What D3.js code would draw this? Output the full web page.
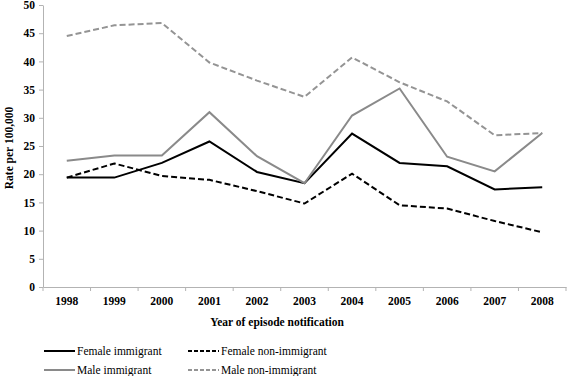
<!DOCTYPE html>
<html><head><meta charset="utf-8">
<script src="https://cdn.jsdelivr.net/npm/d3@7"></script>
<style>body{margin:0;background:#fff}svg{display:block}</style>
</head><body><svg id="c" width="567" height="376" font-family="Liberation Serif"></svg>
<script>
const years = ["1998","1999","2000","2001","2002","2003","2004","2005","2006","2007","2008"];
const femaleImmigrant = [19.4,19.4,22.0,25.8,20.4,18.4,27.2,22.0,21.4,17.3,17.7];
const femaleNonImmigrant = [19.4,21.9,19.7,19.0,17.0,14.8,20.1,14.5,13.9,11.7,9.7];
const maleImmigrant = [22.4,23.3,23.3,31.0,23.2,18.4,30.4,35.2,23.1,20.5,27.3];
const maleNonImmigrant = [44.5,46.4,46.8,39.8,36.6,33.7,40.7,36.3,32.9,26.9,27.3];
const yTicks = [0,5,10,15,20,25,30,35,40,45,50];
const seriesNames = ["Female immigrant","Female non-immigrant","Male immigrant","Male non-immigrant"];

const series = [
  {name:seriesNames[0], values:femaleImmigrant, color:"#000", dash:null},
  {name:seriesNames[1], values:femaleNonImmigrant, color:"#000", dash:"6,3"},
  {name:seriesNames[2], values:maleImmigrant, color:"#8a8a8a", dash:null},
  {name:seriesNames[3], values:maleNonImmigrant, color:"#949494", dash:"6,3"}
];

const svg = d3.select("#c");
const L=43, R=566, T=5, B=287;
const x = d3.scaleBand().domain(years).range([L,R]);
const y = d3.scaleLinear().domain([0,50]).range([B,T]);
const F = "Liberation Serif";

// y axis
const ya = svg.append("g").attr("transform",`translate(${L},0)`)
  .call(d3.axisLeft(y).tickValues(yTicks).tickSize(4).tickSizeOuter(0));
ya.attr("font-family",F).attr("font-size",11.5).attr("font-weight","bold");
ya.select(".domain").attr("stroke","#b3b3b3");
ya.selectAll(".tick line").attr("stroke","#b3b3b3");
ya.selectAll("text").attr("fill","#000").attr("x",-8);

// x axis
const xa = svg.append("g").attr("transform",`translate(0,${B})`)
  .call(d3.axisBottom(x).tickSize(0).tickSizeOuter(0));
xa.attr("font-family",F).attr("font-size",11.5).attr("font-weight","bold");
xa.select(".domain").attr("stroke","#b3b3b3");
xa.selectAll("text").attr("fill","#000").attr("dy","1.05em").attr("y",6);
const bounds = years.map(d=>x(d)).concat([R]);
svg.append("g").selectAll("line").data(bounds).join("line")
  .attr("x1",d=>d).attr("x2",d=>d).attr("y1",B).attr("y2",B+4).attr("stroke","#b3b3b3");

// lines
const line = d3.line().x((d,i)=>x(years[i])+x.bandwidth()/2).y(d=>y(d));
svg.append("g").selectAll("path").data(series).join("path")
  .attr("d",d=>line(d.values)).attr("fill","none")
  .attr("stroke",d=>d.color).attr("stroke-width",2)
  .attr("stroke-dasharray",d=>d.dash);

// titles
svg.append("text").attr("transform","translate(13,148) rotate(-90)")
  .attr("text-anchor","middle").attr("font-family",F).attr("font-weight","bold").attr("font-size",11.5).text("Rate per 100,000");
svg.append("text").attr("x",277).attr("y",326)
  .attr("text-anchor","middle").attr("font-family",F).attr("font-weight","bold").attr("font-size",11.5).text("Year of episode notification");

// legend
const lpos = [[44,351],[188,351],[44,370],[188,370]];
const lg = svg.append("g").selectAll("g").data(series).join("g")
  .attr("transform",(d,i)=>`translate(${lpos[i][0]},${lpos[i][1]})`);
lg.append("line").attr("x1",0).attr("x2",31).attr("y1",0).attr("y2",0)
  .attr("stroke",d=>d.color).attr("stroke-width",2).attr("stroke-dasharray",d=>d.dash?"4,2":null);
lg.append("text").attr("x",33).attr("y",4).attr("font-family",F).attr("font-size",11.5).text(d=>d.name);
</script></body></html>
